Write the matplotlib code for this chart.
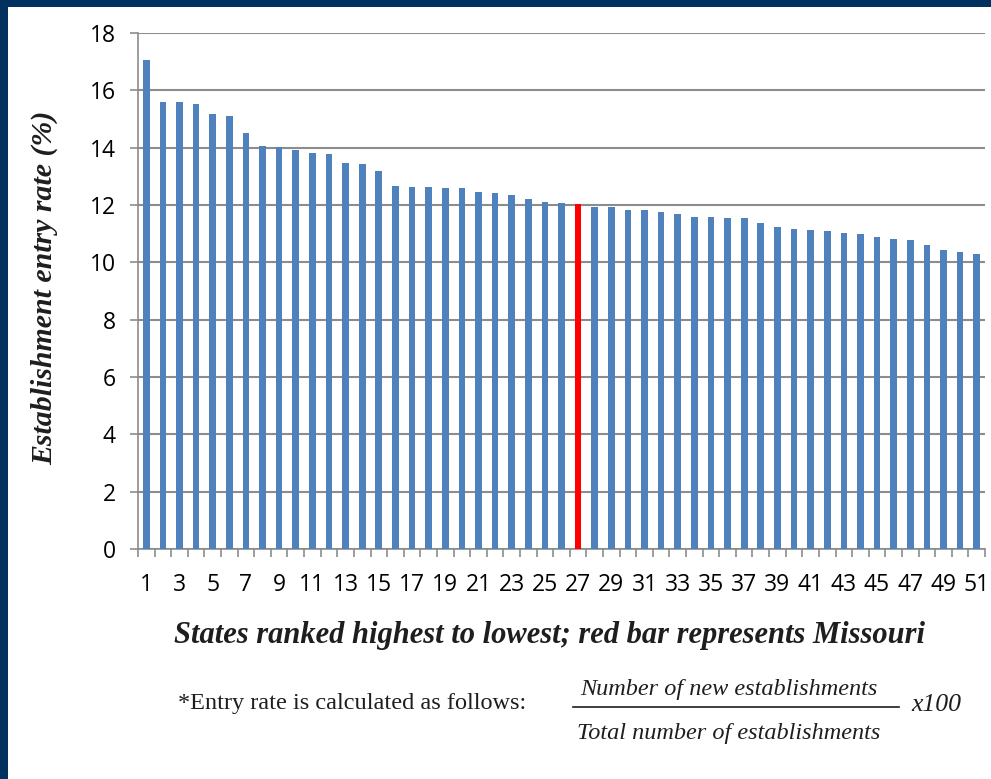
import matplotlib
matplotlib.use("Agg")
import matplotlib.pyplot as plt
from matplotlib.patches import Rectangle
from matplotlib.ticker import FixedLocator, NullFormatter

# Establishment entry rate (%) by state, ranked highest to lowest
ranks = list(range(1, 52))
entry_rate = [
    17.06, 15.60, 15.58, 15.51, 15.17, 15.10, 14.50, 14.06, 14.01, 13.93,
    13.81, 13.77, 13.45, 13.43, 13.18, 12.66, 12.64, 12.64, 12.59, 12.59,
    12.47, 12.43, 12.36, 12.22, 12.10, 12.07, 12.02, 11.94, 11.94, 11.81,
    11.81, 11.74, 11.67, 11.58, 11.58, 11.56, 11.56, 11.36, 11.23, 11.16,
    11.13, 11.09, 11.01, 10.99, 10.89, 10.80, 10.78, 10.59, 10.43, 10.37,
    10.28,
]
missouri_rank = 27
y_ticks = [0, 2, 4, 6, 8, 10, 12, 14, 16, 18]
x_tick_labels = [str(r) for r in ranks if r % 2 == 1]

W, H = 991, 779
fig = plt.figure(figsize=(W / 100, H / 100), dpi=100)
fig.patch.set_facecolor("white")

navy = "#01325f"
fig.patches.append(Rectangle((0, 1 - 7 / H), 1, 7 / H, transform=fig.transFigure,
                             facecolor=navy, edgecolor="none", zorder=0))
fig.patches.append(Rectangle((0, 0), 8 / W, 1, transform=fig.transFigure,
                             facecolor=navy, edgecolor="none", zorder=0))

ax_left, ax_right = 138, 985
ax_top, ax_bottom = 33, 549
ax = fig.add_axes([ax_left / W, (H - ax_bottom) / H,
                   (ax_right - ax_left) / W, (ax_bottom - ax_top) / H])

colors = ["#ff0000" if r == missouri_rank else "#4f81bd" for r in ranks]
ax.bar(ranks, entry_rate, width=0.4, color=colors, zorder=3)

ax.set_xlim(0.5, 51.5)
ax.set_ylim(0, 18)
ax.set_yticks(y_ticks)
ax.yaxis.grid(True, color="#8c8c8c", linewidth=1.5, zorder=1)
ax.set_axisbelow(True)

grey = "#8c8c8c"
for side in ("top", "right"):
    ax.spines[side].set_visible(False)
for side in ("left", "bottom"):
    ax.spines[side].set_color(grey)
    ax.spines[side].set_linewidth(1.2)

tick_font = dict(family="Open Sans", size=16.5)
ax.set_yticklabels([str(v) for v in y_ticks], **tick_font)
ax.tick_params(axis="y", direction="out", length=6, width=1.2, color=grey, pad=10)

odd_ranks = [r for r in ranks if r % 2 == 1]
ax.set_xticks(odd_ranks)
ax.set_xticklabels(x_tick_labels, **tick_font)
ax.tick_params(axis="x", which="major", length=0, pad=17)
ax.xaxis.set_minor_locator(FixedLocator([r + 0.5 for r in range(0, 52)]))
ax.xaxis.set_minor_formatter(NullFormatter())
ax.tick_params(axis="x", which="minor", direction="out", length=6, width=1.2, color=grey)

serif = "Liberation Serif"
ink = "#1e1e1e"
fig.text(45 / W, 1 - 288 / H, "Establishment entry rate (%)", rotation=90,
         family=serif, style="italic", weight="bold", size=21.5,
         ha="center", va="center", color=ink)
fig.text(550 / W, 1 - 636 / H, "States ranked highest to lowest; red bar represents Missouri",
         family=serif, style="italic", weight="bold", size=22,
         ha="center", va="center", color=ink)

fig.text(178 / W, 1 - 703 / H, "*Entry rate is calculated as follows:",
         family=serif, size=17.5, ha="left", va="center", color=ink)
fig.text(729 / W, 1 - 690 / H, "Number of new establishments",
         family=serif, style="italic", size=17.5, ha="center", va="center", color=ink)
fig.text(729 / W, 1 - 733 / H, "Total number of establishments",
         family=serif, style="italic", size=17.5, ha="center", va="center", color=ink)
fig.add_artist(plt.Line2D([573 / W, 899 / W], [1 - 707 / H, 1 - 707 / H],
                          transform=fig.transFigure, color=ink, linewidth=1.2))
fig.text(911 / W, 1 - 705 / H, "x100",
         family=serif, style="italic", size=18.5, ha="left", va="center", color=ink)

fig.savefig("out.png", dpi=100, facecolor=fig.get_facecolor())
